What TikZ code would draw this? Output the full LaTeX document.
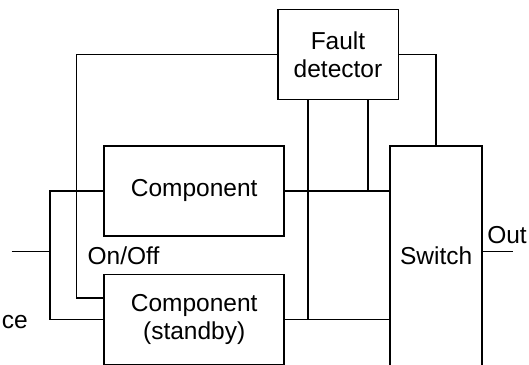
\documentclass[tikz,border=0pt]{standalone}
\usepackage{fontspec}
\setmainfont{Liberation Sans}
\usetikzlibrary{positioning,calc}

\begin{document}
\begin{tikzpicture}[x=0.5pt,y=-0.5pt,line width=0.8pt,
  blk/.style={draw,rectangle,align=center,inner sep=0pt,minimum height=45pt},
  every node/.append style={font=\fontsize{12.25}{14}\selectfont}]
\clip (0,0) rectangle (529,364);
\node[blk,minimum width=60.3pt] (fault) at (338,54.3) {Fault\\detector};
\node[blk,minimum width=90pt] (comp) at (194.2,190.8) {Component};
\node[blk,minimum width=90pt] (stby) at (194.2,319.3) {Component\\(standby)};
\node[blk,minimum width=46pt,minimum height=110pt] (switch) at (436.2,256) {Switch};
\node (onofflbl) at (123.5,256) {On/Off};
\node[anchor=base west,inner sep=0pt] (srclbl) at (1,328) {ce};
\node[anchor=base west,inner sep=0pt] (outlbl) at (486.5,243) {Out};
\coordinate (in) at (11.7,251.3);
\coordinate (bus) at (50,251.3);
\coordinate (onoff) at (76.3,297.7);
\coordinate (fa) at ($(fault.south)+(-30,0)$);
\coordinate (fb) at ($(fault.south)+(30,0)$);
\draw (in) -- (bus);
\draw (comp.west) -| (bus) |- (stby.west);
\draw (fault.west) -| (onoff) -- (onoff -| stby.west);
\draw (fault.east) -| (switch.north);
\draw (comp.east) -- (comp.east -| switch.west);
\draw (stby.east) -- (stby.east -| switch.west);
\draw (fa) -- (fa |- stby.east);
\draw (fb) -- (fb |- comp.east);
\draw (switch.east |- in) -- ++(30,0);
\end{tikzpicture}
\end{document}
